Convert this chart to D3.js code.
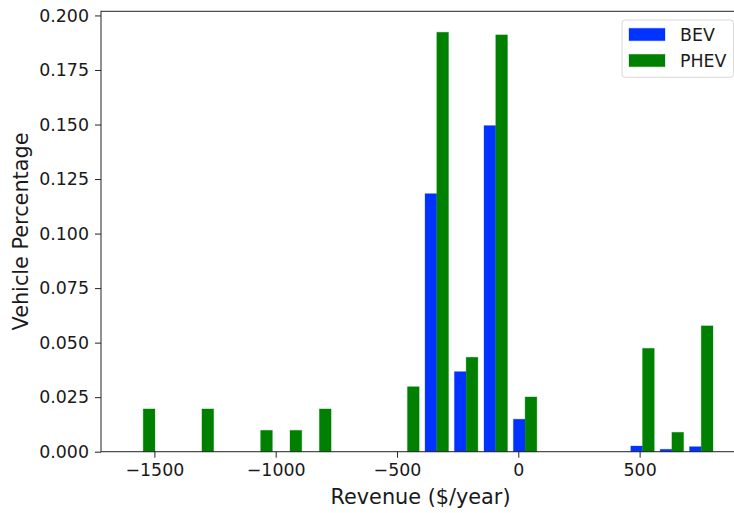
<!DOCTYPE html>
<html>
<head>
<meta charset="utf-8">
<script src="https://cdn.jsdelivr.net/npm/d3@7"></script>
<style>
  html, body { margin: 0; padding: 0; background: #fff; }
  svg { display: block; }
  text { font-family: "DejaVu Sans", sans-serif; fill: #1a1a1a; }
</style>
</head>
<body>
<svg id="chart" width="734" height="513"></svg>
<script>
// Revenue bins ($/year): the point where each BEV/PHEV pair meets
const binRevenue = [-1546, -1425, -1304, -1183, -1062, -941, -820, -699, -578, -457,
                    -336, -215, -93, 28, 149, 270, 391, 512, 633, 754];
// Share of vehicles in each revenue bin
const bevShare  = [0, 0, 0, 0, 0, 0, 0, 0, 0, 0,
                   0.1183, 0.0367, 0.1495, 0.0149, 0, 0, 0, 0.0026, 0.0011, 0.0023];
const phevShare = [0.0196, 0, 0.0196, 0, 0.0098, 0.0098, 0.0196, 0, 0, 0.0298,
                   0.1923, 0.0433, 0.1911, 0.0251, 0, 0, 0, 0.0474, 0.0089, 0.0577];
const seriesNames = ["BEV", "PHEV"];
const seriesColors = ["#0033ff", "#008000"];
const xTicks = [-1500, -1000, -500, 0, 500];
const yTicks = [0, 0.025, 0.05, 0.075, 0.1, 0.125, 0.15, 0.175, 0.2];
const barWidth = 48.4; // in revenue units

const svg = d3.select("#chart");
const W = 734, H = 513;
const plot = { left: 101, right: 742, top: 11.3, bottom: 451.7 };

svg.append("rect").attr("width", W).attr("height", H).attr("fill", "#fff");

const x = d3.scaleLinear().domain([-1720, 922]).range([plot.left, plot.right]);
const y = d3.scaleLinear().domain([0, 0.2019]).range([plot.bottom, plot.top]);

const bars = [];
binRevenue.forEach((r, i) => {
  if (bevShare[i] > 0) bars.push({ x0: r - barWidth, x1: r, v: bevShare[i], s: 0 });
  if (phevShare[i] > 0) bars.push({ x0: r, x1: r + barWidth, v: phevShare[i], s: 1 });
});

svg.append("g").selectAll("rect").data(bars).join("rect")
  .attr("x", d => x(d.x0))
  .attr("width", d => x(d.x1) - x(d.x0))
  .attr("y", d => y(d.v))
  .attr("height", d => y(0) - y(d.v))
  .attr("fill", d => seriesColors[d.s])
  .attr("stroke", d => seriesColors[d.s])
  .attr("stroke-opacity", 0.3)
  .attr("stroke-width", 1);

// Axes
const fmtX = d => (d < 0 ? "\u2212" + Math.abs(d) : String(d));
const xAxis = d3.axisBottom(x).tickValues(xTicks).tickFormat(fmtX).tickSize(6).tickPadding(6);
const yAxis = d3.axisLeft(y).tickValues(yTicks).tickFormat(d3.format(".3f")).tickSize(6).tickPadding(6);

const gx = svg.append("g").attr("transform", `translate(0,${plot.bottom})`).call(xAxis);
const gy = svg.append("g").attr("transform", `translate(${plot.left},0)`).call(yAxis);
[gx, gy].forEach(g => {
  g.select(".domain").remove();
  g.selectAll(".tick line").attr("stroke", "#222").attr("stroke-width", 1);
  g.selectAll(".tick text").attr("font-size", "17.4px").attr("fill", "#1a1a1a")
    .attr("font-family", "DejaVu Sans, sans-serif");
});

// Frame
svg.append("rect")
  .attr("x", plot.left).attr("y", plot.top)
  .attr("width", plot.right - plot.left).attr("height", plot.bottom - plot.top)
  .attr("fill", "none").attr("stroke", "#222").attr("stroke-width", 1);

// Axis titles
svg.append("text")
  .attr("x", (plot.left + plot.right) / 2 - 1)
  .attr("y", 504)
  .attr("text-anchor", "middle")
  .attr("font-size", "20.8px")
  .text("Revenue ($/year)");

svg.append("text")
  .attr("transform", `translate(28,${(plot.top + plot.bottom) / 2}) rotate(-90)`)
  .attr("text-anchor", "middle")
  .attr("font-size", "20.8px")
  .text("Vehicle Percentage");

// Legend
const lg = svg.append("g");
lg.append("rect")
  .attr("x", 622).attr("y", 20).attr("width", 111.5).attr("height", 57.3)
  .attr("rx", 3).attr("fill", "#fff").attr("fill-opacity", 0.8)
  .attr("stroke", "#d8d8d8").attr("stroke-width", 1);
seriesNames.forEach((name, i) => {
  const top = 28.3 + i * 26;
  lg.append("rect")
    .attr("x", 629).attr("y", top).attr("width", 36).attr("height", 12.4)
    .attr("fill", seriesColors[i])
    .attr("stroke", seriesColors[i]).attr("stroke-opacity", 0.3);
  lg.append("text")
    .attr("x", 680).attr("y", top + 12.8)
    .attr("font-size", "17.4px")
    .text(name);
});
</script>
</body>
</html>
